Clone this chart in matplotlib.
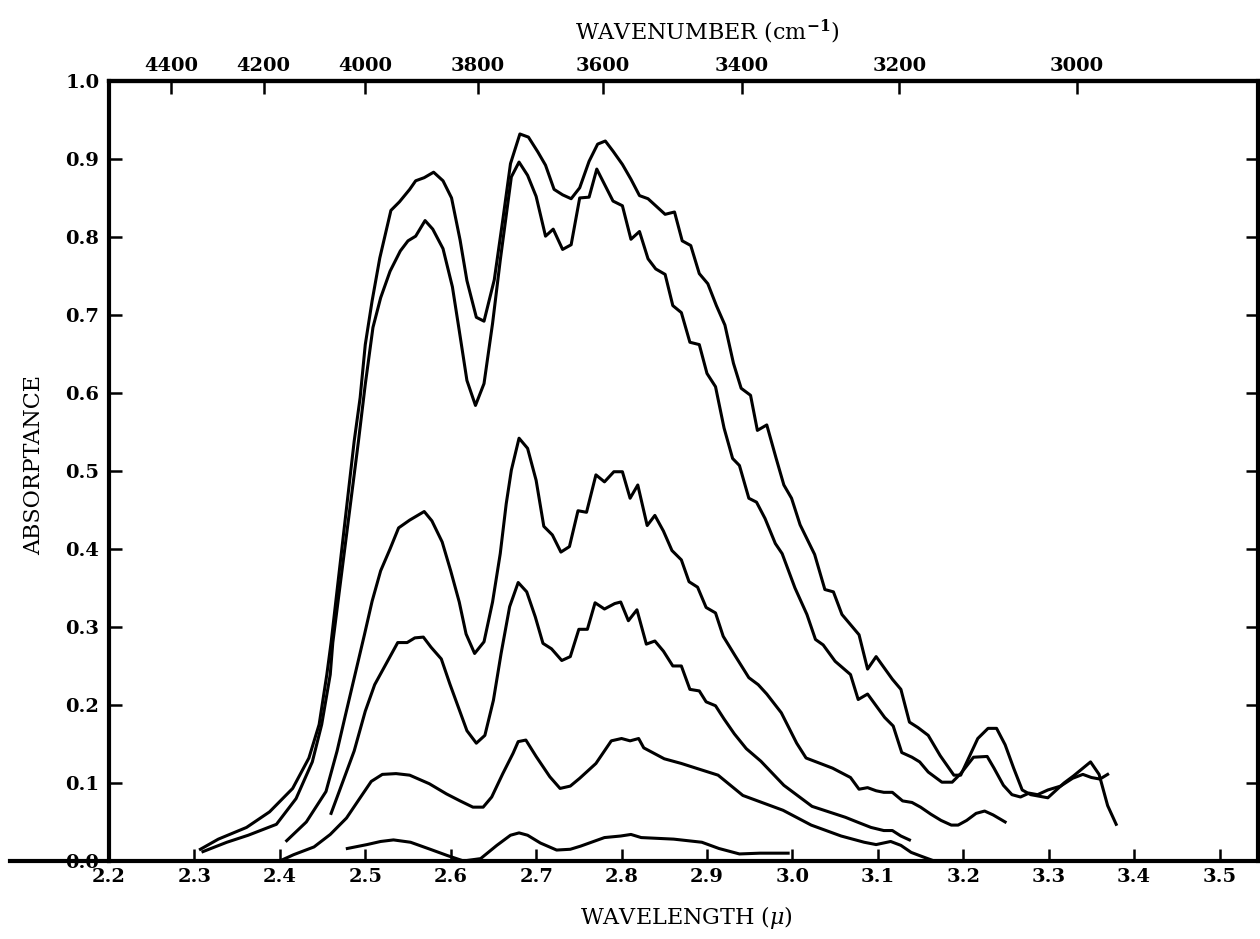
import numpy as np
import matplotlib
matplotlib.use("Agg")
import matplotlib.pyplot as plt

# absorptance curves, wavelength in microns
wl_a = [2.307, 2.328, 2.361, 2.388, 2.415, 2.434, 2.446, 2.455, 2.460, 2.487, 2.494, 2.500,
        2.508, 2.517, 2.530, 2.540, 2.552, 2.559, 2.569, 2.580, 2.591, 2.601, 2.611, 2.619,
        2.630, 2.639, 2.651, 2.661, 2.670, 2.681, 2.691, 2.702, 2.711, 2.721, 2.731, 2.741,
        2.751, 2.762, 2.772, 2.781, 2.790, 2.801, 2.811, 2.821, 2.831, 2.841, 2.851, 2.862,
        2.871, 2.881, 2.891, 2.901, 2.911, 2.921, 2.931, 2.940, 2.951, 2.959, 2.970, 2.981,
        2.990, 2.999, 3.009, 3.026, 3.038, 3.048, 3.058, 3.078, 3.088, 3.098, 3.117, 3.127,
        3.137, 3.147, 3.159, 3.173, 3.189, 3.197, 3.217, 3.229, 3.239, 3.249, 3.259, 3.269,
        3.279, 3.299, 3.318, 3.329, 3.349, 3.359, 3.369, 3.379]
ab_a = [0.015, 0.028, 0.043, 0.063, 0.093, 0.132, 0.175, 0.239, 0.280, 0.538, 0.594, 0.662,
        0.718, 0.773, 0.834, 0.845, 0.861, 0.872, 0.876, 0.883, 0.872, 0.850, 0.796, 0.744,
        0.697, 0.692, 0.745, 0.822, 0.894, 0.932, 0.928, 0.909, 0.892, 0.861, 0.854, 0.849,
        0.863, 0.897, 0.919, 0.923, 0.910, 0.893, 0.874, 0.853, 0.849, 0.839, 0.829, 0.832,
        0.795, 0.789, 0.753, 0.740, 0.712, 0.687, 0.638, 0.606, 0.597, 0.552, 0.559, 0.516,
        0.482, 0.465, 0.431, 0.393, 0.348, 0.345, 0.316, 0.290, 0.246, 0.262, 0.233, 0.220,
        0.178, 0.171, 0.161, 0.135, 0.110, 0.110, 0.157, 0.170, 0.170, 0.149, 0.119, 0.091,
        0.085, 0.081, 0.100, 0.109, 0.127, 0.111, 0.071, 0.047]

wl_b = [2.310, 2.338, 2.363, 2.396, 2.419, 2.438, 2.449, 2.459, 2.462, 2.492, 2.500, 2.509,
        2.518, 2.529, 2.541, 2.550, 2.559, 2.570, 2.579, 2.591, 2.602, 2.610, 2.619, 2.629,
        2.639, 2.649, 2.658, 2.671, 2.680, 2.690, 2.700, 2.711, 2.720, 2.731, 2.741, 2.751,
        2.762, 2.771, 2.790, 2.801, 2.811, 2.821, 2.831, 2.840, 2.851, 2.860, 2.870, 2.880,
        2.891, 2.900, 2.910, 2.920, 2.930, 2.938, 2.949, 2.958, 2.968, 2.980, 2.988, 3.003,
        3.017, 3.027, 3.036, 3.050, 3.068, 3.077, 3.088, 3.108, 3.118, 3.128, 3.140, 3.149,
        3.159, 3.175, 3.187, 3.197, 3.212, 3.228, 3.236, 3.247, 3.257, 3.267, 3.277, 3.287,
        3.299, 3.314, 3.328, 3.340, 3.350, 3.360, 3.369]
ab_b = [0.012, 0.024, 0.033, 0.047, 0.080, 0.127, 0.175, 0.239, 0.280, 0.538, 0.611, 0.684,
        0.722, 0.756, 0.782, 0.795, 0.801, 0.821, 0.810, 0.785, 0.736, 0.680, 0.616, 0.584,
        0.612, 0.689, 0.770, 0.877, 0.896, 0.879, 0.852, 0.801, 0.810, 0.784, 0.790, 0.850,
        0.851, 0.887, 0.846, 0.840, 0.797, 0.807, 0.772, 0.759, 0.752, 0.712, 0.703, 0.665,
        0.662, 0.625, 0.608, 0.555, 0.516, 0.507, 0.465, 0.460, 0.439, 0.407, 0.394, 0.350,
        0.316, 0.284, 0.277, 0.256, 0.239, 0.207, 0.214, 0.184, 0.173, 0.139, 0.133, 0.127,
        0.114, 0.101, 0.101, 0.112, 0.133, 0.134, 0.119, 0.097, 0.085, 0.082, 0.087, 0.085,
        0.091, 0.096, 0.106, 0.111, 0.107, 0.105, 0.111]

wl_c = [2.408, 2.431, 2.454, 2.467, 2.477, 2.488, 2.499, 2.508, 2.518, 2.529, 2.539, 2.552,
        2.569, 2.578, 2.590, 2.600, 2.610, 2.618, 2.628, 2.639, 2.649, 2.658, 2.665, 2.671,
        2.680, 2.690, 2.700, 2.709, 2.719, 2.729, 2.739, 2.749, 2.759, 2.770, 2.780, 2.791,
        2.801, 2.810, 2.819, 2.830, 2.839, 2.849, 2.859, 2.870, 2.879, 2.889, 2.899, 2.910,
        2.919, 2.933, 2.949, 2.960, 2.970, 2.987, 3.005, 3.016, 3.047, 3.068, 3.078, 3.088,
        3.098, 3.107, 3.117, 3.129, 3.140, 3.150, 3.162, 3.174, 3.186, 3.194, 3.204, 3.215,
        3.225, 3.235, 3.249]
ab_c = [0.026, 0.050, 0.089, 0.141, 0.188, 0.239, 0.290, 0.333, 0.372, 0.400, 0.427, 0.437,
        0.448, 0.436, 0.409, 0.372, 0.332, 0.291, 0.266, 0.281, 0.332, 0.394, 0.458, 0.501,
        0.542, 0.529, 0.488, 0.429, 0.418, 0.396, 0.403, 0.449, 0.447, 0.495, 0.486, 0.499,
        0.499, 0.465, 0.482, 0.430, 0.443, 0.423, 0.398, 0.386, 0.358, 0.351, 0.325, 0.318,
        0.288, 0.263, 0.235, 0.226, 0.214, 0.190, 0.151, 0.132, 0.119, 0.107, 0.092, 0.094,
        0.090, 0.088, 0.088, 0.077, 0.075, 0.069, 0.060, 0.052, 0.046, 0.046, 0.052, 0.061,
        0.064, 0.059, 0.050]

wl_d = [2.460, 2.487, 2.500, 2.511, 2.523, 2.538, 2.549, 2.558, 2.568, 2.577, 2.589, 2.599,
        2.609, 2.619, 2.630, 2.640, 2.650, 2.659, 2.669, 2.679, 2.689, 2.699, 2.708, 2.718,
        2.730, 2.740, 2.750, 2.760, 2.769, 2.780, 2.792, 2.799, 2.808, 2.818, 2.829, 2.839,
        2.849, 2.860, 2.870, 2.880, 2.891, 2.899, 2.910, 2.920, 2.932, 2.946, 2.963, 2.990,
        3.023, 3.062, 3.078, 3.092, 3.107, 3.117, 3.127, 3.137]
ab_d = [0.061, 0.141, 0.192, 0.226, 0.250, 0.280, 0.280, 0.286, 0.287, 0.274, 0.259, 0.227,
        0.197, 0.167, 0.151, 0.161, 0.206, 0.266, 0.326, 0.357, 0.345, 0.313, 0.279, 0.272,
        0.257, 0.262, 0.297, 0.297, 0.331, 0.323, 0.330, 0.332, 0.308, 0.322, 0.278, 0.282,
        0.269, 0.250, 0.250, 0.220, 0.218, 0.204, 0.199, 0.182, 0.163, 0.144, 0.128, 0.097,
        0.070, 0.056, 0.049, 0.043, 0.039, 0.039, 0.032, 0.027]

wl_e = [2.400, 2.416, 2.440, 2.459, 2.478, 2.494, 2.507, 2.520, 2.536, 2.552, 2.575, 2.595,
        2.611, 2.626, 2.638, 2.648, 2.661, 2.673, 2.679, 2.688, 2.700, 2.716, 2.728, 2.740,
        2.751, 2.770, 2.788, 2.800, 2.810, 2.820, 2.826, 2.850, 2.870, 2.890, 2.913, 2.942,
        2.989, 3.022, 3.057, 3.084, 3.098, 3.115, 3.127, 3.139, 3.151, 3.166]
ab_e = [0.000, 0.008, 0.018, 0.034, 0.055, 0.081, 0.102, 0.111, 0.112, 0.110, 0.099, 0.086,
        0.077, 0.069, 0.069, 0.082, 0.112, 0.138, 0.153, 0.155, 0.134, 0.108, 0.093, 0.096,
        0.106, 0.125, 0.154, 0.157, 0.154, 0.157, 0.145, 0.131, 0.125, 0.118, 0.110, 0.084,
        0.065, 0.046, 0.032, 0.024, 0.021, 0.025, 0.020, 0.011, 0.006, 0.000]

wl_f = [2.479, 2.502, 2.518, 2.533, 2.553, 2.576, 2.596, 2.615, 2.635, 2.654, 2.670, 2.680,
        2.690, 2.705, 2.724, 2.740, 2.752, 2.780, 2.799, 2.811, 2.823, 2.861, 2.894, 2.914,
        2.938, 2.962, 2.995]
ab_f = [0.016, 0.021, 0.025, 0.027, 0.024, 0.015, 0.007, 0.000, 0.003, 0.020, 0.033, 0.036,
        0.033, 0.023, 0.014, 0.015, 0.019, 0.030, 0.032, 0.034, 0.030, 0.028, 0.024, 0.016,
        0.009, 0.010, 0.010]

wl_ticks = [2.2, 2.3, 2.4, 2.5, 2.6, 2.7, 2.8, 2.9, 3.0, 3.1, 3.2, 3.3, 3.4, 3.5]
ab_ticks = [0.0, 0.1, 0.2, 0.3, 0.4, 0.5, 0.6, 0.7, 0.8, 0.9, 1.0]
wn_ticks = [4400, 4200, 4000, 3800, 3600, 3400, 3200, 3000]

plt.rcParams["font.family"] = "DejaVu Serif"
plt.rcParams["mathtext.fontset"] = "dejavuserif"

fig = plt.figure(figsize=(12.6, 9.39), dpi=100)
ax = fig.add_axes([0.0865, 0.0831, 0.9119, 0.8307])

for wl, ab in [(wl_a, ab_a), (wl_b, ab_b), (wl_c, ab_c),
               (wl_d, ab_d), (wl_e, ab_e), (wl_f, ab_f)]:
    ax.plot(wl, ab, color="black", lw=2.2)

ax.set_xlim(2.2, 3.545)
ax.set_ylim(0, 1.0)
ax.set_xticks(wl_ticks)
ax.set_xticklabels([f"{v:.1f}" for v in wl_ticks], fontweight="bold")
ax.set_yticks(ab_ticks)
ax.set_yticklabels([f"{v:.1f}" for v in ab_ticks], fontweight="bold")
ax.tick_params(direction="in", length=9, width=1.8, labelsize=14)
ax.tick_params(axis="y", right=True, pad=7)
ax.tick_params(axis="x", pad=5)
for sp in ax.spines.values():
    sp.set_linewidth(3)

# zero line runs out past the left spine
ax.plot([-0.086, 0], [0, 0], transform=ax.get_yaxis_transform(),
        color="black", lw=3, clip_on=False)


def to_wavenumber(x):
    x = np.asarray(x, dtype=float)
    with np.errstate(divide="ignore"):
        return 1e4 / x


sec = ax.secondary_xaxis("top", functions=(to_wavenumber, to_wavenumber))
sec.set_xticks(wn_ticks)
sec.set_xticklabels([str(v) for v in wn_ticks], fontweight="bold")
sec.tick_params(direction="in", length=9, width=1.8, labelsize=14, pad=4)
sec.spines["top"].set_linewidth(3)

fig.text(0.561, 0.966, r"WAVENUMBER (cm$^{\mathbf{-1}}$)", ha="center", va="center", fontsize=16)
fig.text(0.545, 0.023, r"WAVELENGTH ($\mu$)", ha="center", va="center", fontsize=16)
fig.text(0.027, 0.505, "ABSORPTANCE", ha="center", va="center", rotation=90, fontsize=16)

fig.savefig("out.png", dpi=100)
